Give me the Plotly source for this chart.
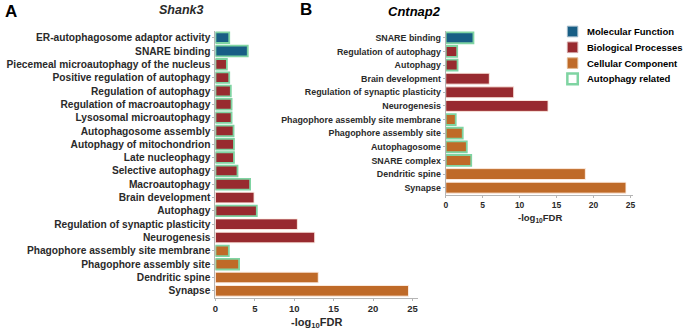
import plotly.graph_objects as go

# ---------------- data ----------------
a_terms = ["ER-autophagosome adaptor activity", "SNARE binding",
           "Piecemeal microautophagy of the nucleus", "Positive regulation of autophagy",
           "Regulation of autophagy", "Regulation of macroautophagy",
           "Lysosomal microautophagy", "Autophagosome assembly",
           "Autophagy of mitochondrion", "Late nucleophagy", "Selective autophagy",
           "Macroautophagy", "Brain development", "Autophagy",
           "Regulation of synaptic plasticity", "Neurogenesis",
           "Phagophore assembly site membrane", "Phagophore assembly site",
           "Dendritic spine", "Synapse"]
a_values = [1.75, 4.1, 1.45, 1.75, 1.95, 2.05, 2.05, 2.3, 2.35, 2.35, 2.8, 4.4,
            4.9, 5.25, 10.4, 12.6, 1.7, 3.0, 13.05, 24.5]
a_group = ["MF", "MF"] + ["BP"] * 14 + ["CC"] * 4
a_autoph = [1, 1, 1, 1, 1, 1, 1, 1, 1, 1, 1, 1, 0, 1, 0, 0, 1, 1, 0, 0]

b_terms = ["SNARE binding", "Regulation of autophagy", "Autophagy", "Brain development",
           "Regulation of synaptic plasticity", "Neurogenesis",
           "Phagophore assembly site membrane", "Phagophore assembly site",
           "Autophagosome", "SNARE complex", "Dendritic spine", "Synapse"]
b_values = [3.75, 1.55, 1.6, 5.9, 9.2, 13.85, 1.35, 2.3, 2.85, 3.45, 18.9, 24.4]
b_group = ["MF", "BP", "BP", "BP", "BP", "BP", "CC", "CC", "CC", "CC", "CC", "CC"]
b_autoph = [1, 1, 1, 0, 0, 0, 1, 1, 1, 1, 0, 0]

x_ticks = [0, 5, 10, 15, 20, 25]

group_names = {"MF": "Molecular Function", "BP": "Biological Processes",
               "CC": "Cellular Component"}
group_colors = {"MF": "#185e85", "BP": "#982a2f", "CC": "#bf6a28"}
green = "#7fd4a2"
plain_edge = "rgba(255,240,230,0.9)"

FONT = "Liberation Sans"
TXT = "#2a2a2a"

fig = go.Figure()


def add_panel(terms, values, groups, autoph, xa, ya):
    fig.add_trace(go.Bar(
        y=terms, x=values, orientation="h", xaxis=xa, yaxis=ya,
        marker=dict(color=[group_colors[g] for g in groups],
                    line=dict(color=[green if f else plain_edge for f in autoph],
                              width=[1.8 if f else 1.0 for f in autoph])),
        showlegend=False, hoverinfo="x+y"))


add_panel(a_terms, a_values, a_group, a_autoph, "x", "y")
add_panel(b_terms, b_values, b_group, b_autoph, "x2", "y2")

W, H = 685, 329


def px(x):
    return x / W


def py(y):
    return 1 - y / H


axis_common = dict(showline=True, linecolor="#b5b5b5", linewidth=1, ticks="outside",
                   tickcolor="#b5b5b5", ticklen=2, showgrid=False, zeroline=False)

fig.update_layout(
    width=W, height=H, autosize=False,
    margin=dict(l=0, r=0, t=0, b=0),
    paper_bgcolor="white", plot_bgcolor="white",
    bargap=0.2,
    font=dict(family=FONT, color=TXT),
    xaxis=dict(domain=[px(214), px(418)], range=[0, 25.7], anchor="y",
               tickvals=x_ticks,
               tickfont=dict(size=9.5, weight="bold", color=TXT, family=FONT),
               **axis_common),
    yaxis=dict(domain=[py(297.5), py(31)], anchor="x", autorange="reversed",
               type="category",
               tickfont=dict(size=10.2, weight="bold", color=TXT, family=FONT),
               **axis_common),
    xaxis2=dict(domain=[px(446), px(635)], range=[0, 25.4], anchor="y2",
                tickvals=x_ticks,
                tickfont=dict(size=8.5, weight="bold", color=TXT, family=FONT),
                **axis_common),
    yaxis2=dict(domain=[py(194.5), py(31)], anchor="x2", autorange="reversed",
                type="category",
                tickfont=dict(size=8.9, weight="bold", color=TXT, family=FONT),
                **axis_common),
)

ann = []
# panel letters and titles
ann.append(dict(text="<b>A</b>", x=px(8), y=py(11), font=dict(size=17, color="black")))
ann.append(dict(text="<b>B</b>", x=px(305), y=py(10), font=dict(size=17, color="black")))
ann.append(dict(text="<b><i>Shank3</i></b>", x=px(180), y=py(10),
                font=dict(size=12.5, color=TXT)))
ann.append(dict(text="<b><i>Cntnap2</i></b>", x=px(415), y=py(11),
                font=dict(size=13, color="black")))
# axis titles
ann.append(dict(text="<b>-log<sub>10</sub>FDR</b>", x=px(316), y=py(323),
                font=dict(size=11, color=TXT)))
ann.append(dict(text="<b>-log<sub>10</sub>FDR</b>", x=px(541), y=py(218),
                font=dict(size=9.5, color=TXT)))

# legend (custom)
legend_items = [("MF", group_colors["MF"], "#9fb8c8", 1),
                ("BP", group_colors["BP"], "#d0a0a0", 1),
                ("CC", group_colors["CC"], "#e0b890", 1),
                ("AR", "white", green, 2.5)]
legend_labels = [group_names["MF"], group_names["BP"], group_names["CC"],
                 "Autophagy related"]
shapes = []
for i, ((key, fill, edge, lw), lab) in enumerate(zip(legend_items, legend_labels)):
    cy = 31.5 + i * 15.8
    shapes.append(dict(type="rect", xref="paper", yref="paper",
                       x0=px(568.5), x1=px(579), y0=py(cy + 5.3), y1=py(cy - 5.3),
                       fillcolor=fill, line=dict(color=edge, width=lw)))
    ann.append(dict(text="<b>" + lab + "</b>", x=px(586), y=py(cy), xanchor="left",
                    font=dict(size=9.5, color="black")))

for a in ann:
    a.setdefault("xanchor", "center")
    a.update(xref="paper", yref="paper", yanchor="middle", showarrow=False)
    a["font"].setdefault("family", FONT)

fig.update_layout(annotations=ann, shapes=shapes)

fig.write_html("out.html",
               config={"displayModeBar": False},
               post_script="document.body.style.margin='0';"
                           "document.body.style.overflow='hidden';")
